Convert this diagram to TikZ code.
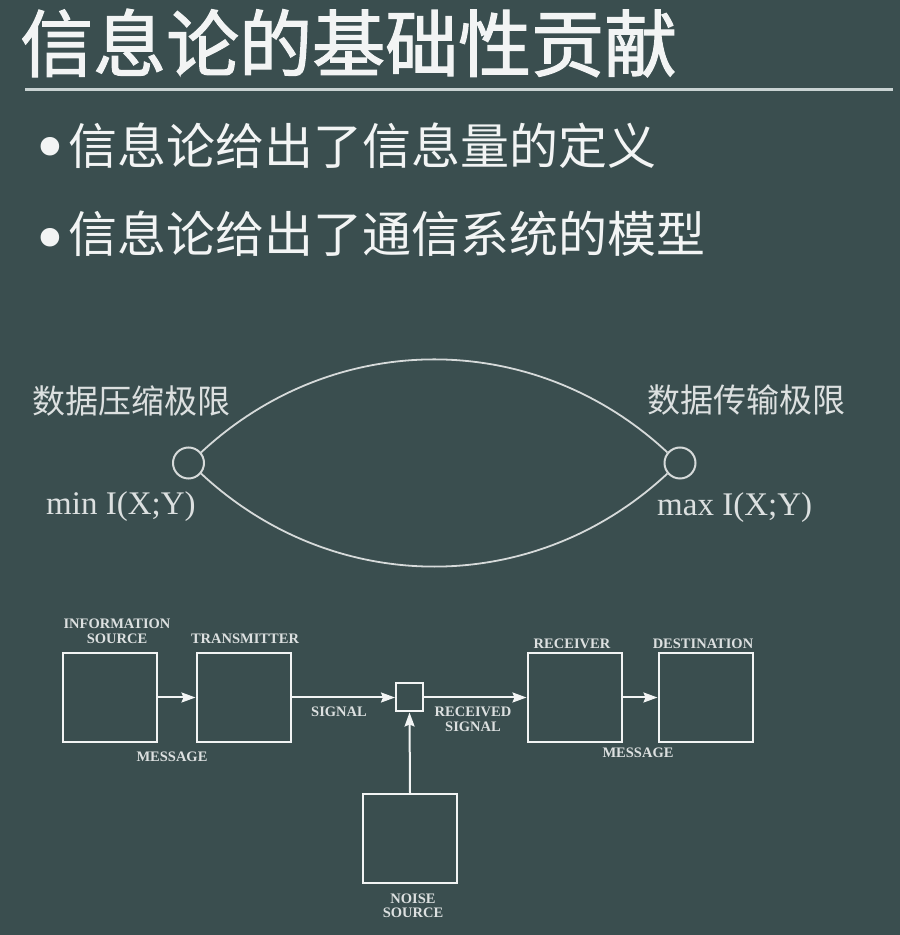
\documentclass[tikz,border=0pt]{standalone}
\usepackage{fontspec}
\setmainfont{Liberation Serif}
\newfontfamily\cjk{Noto Sans CJK SC}
\newfontfamily\cjkhead{Noto Sans CJK SC}[FakeBold=1.6]
\newfontfamily\dejavu{DejaVu Sans}
\usetikzlibrary{arrows.meta}

\definecolor{board}{HTML}{3A4E4F}
\definecolor{chalk}{HTML}{F2F4F4}
\definecolor{rulecol}{HTML}{C9D3D3}
\definecolor{lenscol}{HTML}{D6DADA}
\definecolor{soft}{HTML}{DCE0E0}

\tikzset{
  title/.style={anchor=west, inner sep=0pt, text=chalk, font=\cjkhead\fontsize{73}{80}\selectfont},
  bullettext/.style={anchor=west, inner sep=0pt, text=chalk, font=\cjk\fontsize{49}{56}\selectfont},
  bulletdot/.style={inner sep=0pt, text=chalk, font=\dejavu\fontsize{64}{70}\selectfont},
  limitlabel/.style={anchor=west, inner sep=0pt, text=soft, font=\cjk\fontsize{33}{38}\selectfont},
  mathlabel/.style={anchor=west, inner sep=0pt, text=soft, font=\fontsize{33}{38}\selectfont},
  endpoint/.style={circle, draw=lenscol, line width=2pt, minimum size=31pt, inner sep=0pt},
  lens/.style={draw=lenscol, line width=1.8pt},
  block/.style={draw=chalk, line width=2pt, minimum width=94pt, minimum height=89pt, inner sep=0pt},
  junction/.style={draw=chalk, line width=2pt, minimum width=27pt, minimum height=28pt, inner sep=0pt},
  caplabel/.style={inner sep=0pt, text=soft, font=\bfseries\fontsize{14.5}{17}\selectfont},
  flow/.style={draw=chalk, line width=2pt, -{Stealth[length=14pt,width=10pt,inset=2pt]}},
}

\begin{document}
\begin{tikzpicture}[x=1pt,y=1pt]
\useasboundingbox (0,0) rectangle (900,935);
\fill[board] (0,0) rectangle (900,935);

% heading and rule
\node[title] (head) at (20,892) {信息论的基础性贡献};
\coordinate (ruleL) at (25,845);
\coordinate (ruleR) at (893,845);
\draw[rulecol, line width=3pt] (ruleL) -- (ruleR);

% bullet points
\node[bulletdot] (dot1) at (50,781) {•};
\node[bullettext] (item1) at (68,789) {信息论给出了信息量的定义};
\node[bulletdot] (dot2) at (50,690) {•};
\node[bullettext] (item2) at (68,701) {信息论给出了通信系统的模型};

% limits of mutual information
\node[endpoint] (L) at (188.5,472) {};
\node[endpoint] (R) at (680,472) {};
\draw[lens] (L.40) to[out=43,in=137] (R.140);
\draw[lens] (L.-40) to[out=-43,in=-137] (R.-140);
\node[limitlabel] (compress) at (32,534) {数据压缩极限};
\node[limitlabel] (transmit) at (647,535) {数据传输极限};
\node[mathlabel] (minI) at (46,428) {min I(X;Y)};
\node[mathlabel] (maxI) at (657,427) {max I(X;Y)};

% communication system blocks
\node[block] (src) at (110,237.5) {};
\node[block] (tx) at (243.5,237.5) {};
\node[junction] (mix) at (409.5,237.5) {};
\node[block] (rx) at (574.5,237.5) {};
\node[block] (dst) at (705.5,237.5) {};
\node[block] (noise) at (410,96.5) {};

\draw[flow] (src.east) -- (tx.west);
\draw[flow] (tx.east) -- (mix.west);
\draw[flow] (mix.east) -- (rx.west);
\draw[flow] (rx.east) -- (dst.west);
\draw[flow] (noise.north) -- (mix.south);

% block captions
\node[caplabel] (srcA) at (117,311) {INFORMATION};
\node[caplabel] (srcB) at (117,296) {SOURCE};
\node[caplabel] (txL) at (245,296) {TRANSMITTER};
\node[caplabel] (msg1) at (172,178) {MESSAGE};
\node[caplabel] (sig) at (339,223.5) {SIGNAL};
\node[caplabel] (rsigA) at (473,223) {RECEIVED};
\node[caplabel] (rsigB) at (473,208) {SIGNAL};
\node[caplabel] (rxL) at (572,291) {RECEIVER};
\node[caplabel] (dstL) at (703,291) {DESTINATION};
\node[caplabel] (msg2) at (638,182.5) {MESSAGE};
\node[caplabel] (noiseA) at (413,36.5) {NOISE};
\node[caplabel] (noiseB) at (413,22) {SOURCE};
\end{tikzpicture}
\end{document}
